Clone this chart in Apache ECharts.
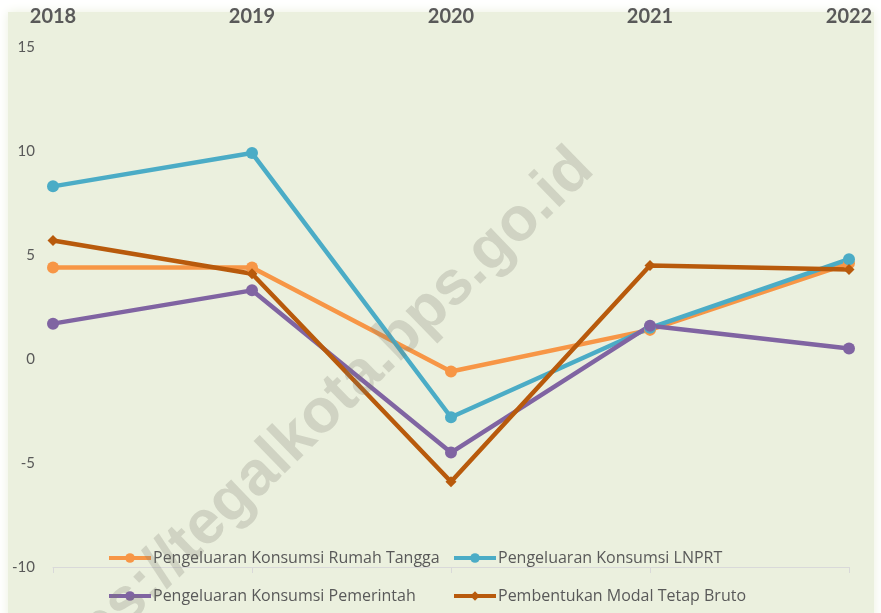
<!DOCTYPE html>
<html>
<head>
<meta charset="utf-8">
<script src="https://cdn.jsdelivr.net/npm/echarts@6/dist/echarts.min.js"></script>
<style>
  html, body { margin: 0; padding: 0; background: #fff; }
  #chart { width: 881px; height: 613px; }
</style>
</head>
<body>
<div id="chart"></div>
<script>
const chartDom = document.getElementById("chart");
let myChart = echarts.init(chartDom);

// data
const years = ["2018", "2019", "2020", "2021", "2022"];
const rumahTangga = [4.4, 4.4, -0.6, 1.4, 4.6];
const lnprt = [8.3, 9.9, -2.8, 1.5, 4.8];
const pemerintah = [1.7, 3.3, -4.5, 1.6, 0.5];
const pmtb = [5.7, 4.1, -5.9, 4.5, 4.3];
const yTicks = [-10, -5, 0, 5, 10, 15];

const names = [
  "Pengeluaran Konsumsi Rumah Tangga",
  "Pengeluaran Konsumsi LNPRT",
  "Pengeluaran Konsumsi Pemerintah",
  "Pembentukan Modal Tetap Bruto",
];
const colors = ["#f79646", "#4bacc6", "#8064a2", "#b85a0c"];
const font = "Lato, 'Open Sans', sans-serif";
const textColor = "#595959";

function lineSeries(idx, values, symbol, size) {
  return {
    name: names[idx],
    type: "line",
    data: values,
    symbol: symbol,
    symbolSize: size,
    lineStyle: { width: 4.5, color: colors[idx] },
    itemStyle: { color: colors[idx] },
    emphasis: { disabled: true },
    z: 3,
  };
}

const legendBase = {
  orient: "vertical",
  height: 80,
  itemWidth: 42,
  itemHeight: 12,
  itemGap: 22,
  lineStyle: { width: 4 },
  textStyle: { fontFamily: "'Open Sans', sans-serif", fontSize: 16, color: textColor, padding: [0, 0, 0, -3] },
};

let option = {
  backgroundColor: "#ffffff",
  animation: false,
  graphic: [
    {
      type: "rect",
      z: -10,
      shape: { x: 8, y: 12, width: 866, height: 620 },
      style: { fill: "#ebf0de", shadowBlur: 10, shadowColor: "#ebf0de" },
    },
    {
      type: "text",
      z: 100,
      x: 307,
      y: 428,
      rotation: 0.77,
      style: {
        text: "https://tegalkota.bps.go.id",
        font: "bold 62px 'Liberation Sans', Arial, sans-serif",
        fill: "rgba(120,120,110,0.24)",
        align: "center",
        verticalAlign: "middle",
      },
    },
  ],
  grid: { left: 53, right: 32, top: 47, bottom: 46 },
  legend: [
    Object.assign({}, legendBase, { left: 102, top: 545, data: [names[0], names[2]] }),
    Object.assign({}, legendBase, { left: 447, top: 545, data: [names[1], names[3]] }),
  ],
  xAxis: [
    {
      type: "category",
      data: years,
      position: "top",
      boundaryGap: false,
      axisLine: { show: false },
      axisTick: { show: false },
      axisLabel: {
        margin: 20,
        fontFamily: font,
        fontSize: 20,
        fontWeight: "bold",
        color: textColor,
      },
    },
    {
      type: "category",
      data: years,
      position: "bottom",
      boundaryGap: false,
      axisLine: { show: true, onZero: true, lineStyle: { color: "#d9d9d9", width: 1 } },
      axisTick: { show: true, length: 6, lineStyle: { color: "#d9d9d9" } },
      axisLabel: { show: false },
    },
  ],
  yAxis: {
    type: "value",
    min: yTicks[0],
    max: yTicks[yTicks.length - 1],
    interval: 5,
    axisLine: { show: false },
    axisTick: { show: false },
    splitLine: { show: false },
    axisLabel: { margin: 18, fontFamily: font, fontSize: 15, color: textColor },
  },
  series: [
    lineSeries(0, rumahTangga, "circle", 12),
    lineSeries(1, lnprt, "circle", 12),
    lineSeries(2, pemerintah, "circle", 12),
    lineSeries(3, pmtb, "diamond", 11),
  ],
};

option && myChart.setOption(option);
</script>
</body>
</html>
